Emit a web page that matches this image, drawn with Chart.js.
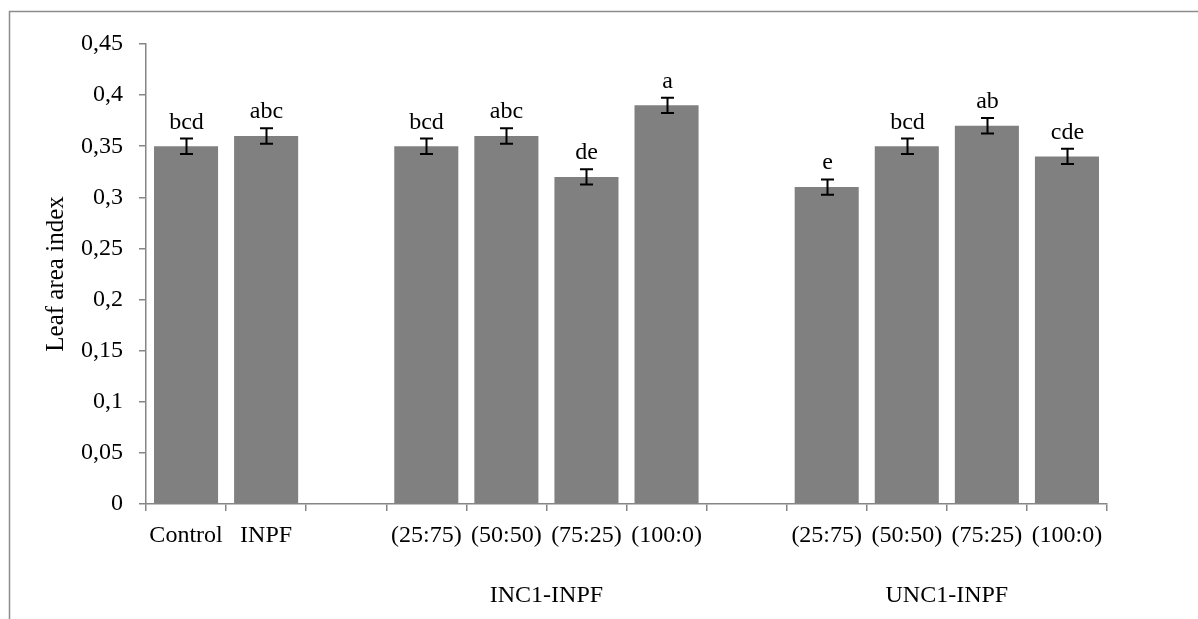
<!DOCTYPE html>
<html>
<head>
<meta charset="utf-8">
<script src="https://cdn.jsdelivr.net/npm/chart.js@4.4.1/dist/chart.umd.min.js"></script>
<style>
  html, body { margin: 0; padding: 0; background: #ffffff; }
  #wrap { width: 1198px; height: 619px; position: relative; }
</style>
</head>
<body>
<div id="wrap"><canvas id="c" width="1198" height="619"></canvas></div>
<script>
// ---- data ----
const categories = ['Control', 'INPF', '', '(25:75)', '(50:50)', '(75:25)', '(100:0)', '', '(25:75)', '(50:50)', '(75:25)', '(100:0)'];
const leafAreaIndex = [0.35, 0.36, null, 0.35, 0.36, 0.32, 0.39, null, 0.31, 0.35, 0.37, 0.34];
const errorValues = [0.0075, 0.0075, null, 0.0075, 0.0075, 0.0075, 0.0075, null, 0.0075, 0.0075, 0.0075, 0.0075];
const significanceLetters = ['bcd', 'abc', '', 'bcd', 'abc', 'de', 'a', '', 'e', 'bcd', 'ab', 'cde'];
const groupLabels = ['INC1-INPF', 'UNC1-INPF'];
const groupRanges = [[3, 6], [8, 11]];
const yTicks = [0, 0.05, 0.1, 0.15, 0.2, 0.25, 0.3, 0.35, 0.4, 0.45];

const FONT = "'Liberation Serif', 'Times New Roman', serif";
const GRAY = '#868686';

const decorPlugin = {
  id: 'decor',
  afterDatasetsDraw(chart) {
    const ctx = chart.ctx;
    const meta = chart.getDatasetMeta(0);
    const y = chart.scales.y;
    const x = chart.scales.x;
    ctx.save();
    // error bars + letters
    meta.data.forEach((bar, i) => {
      const v = leafAreaIndex[i];
      if (v === null || v === undefined) return;
      const e = errorValues[i];
      const cx = Math.round(bar.x) + 0.5;
      const top = y.getPixelForValue(v + e);
      const bot = y.getPixelForValue(v - e);
      ctx.strokeStyle = '#000';
      ctx.lineWidth = 2;
      ctx.beginPath();
      ctx.moveTo(cx, top); ctx.lineTo(cx, bot);
      ctx.moveTo(cx - 6.5, top); ctx.lineTo(cx + 6.5, top);
      ctx.moveTo(cx - 6.5, bot); ctx.lineTo(cx + 6.5, bot);
      ctx.stroke();
      ctx.fillStyle = '#000';
      ctx.font = '24px ' + FONT;
      ctx.textAlign = 'center';
      ctx.textBaseline = 'alphabetic';
      ctx.fillText(significanceLetters[i], cx, top - 10);
    });
    // group labels
    ctx.font = '24px ' + FONT;
    ctx.fillStyle = '#000';
    ctx.textAlign = 'center';
    ctx.textBaseline = 'alphabetic';
    groupLabels.forEach((g, k) => {
      const [a, b] = groupRanges[k];
      const gx = (x.getPixelForValue(a) + x.getPixelForValue(b)) / 2;
      ctx.fillText(g, gx, 602);
    });
    // outer frame
    ctx.strokeStyle = '#8c8c8c';
    ctx.lineWidth = 1.5;
    ctx.beginPath();
    ctx.moveTo(9.5, 619);
    ctx.lineTo(9.5, 11.5);
    ctx.lineTo(1198, 11.5);
    ctx.stroke();
    ctx.restore();
  }
};

new Chart(document.getElementById('c'), {
  type: 'bar',
  data: {
    labels: categories,
    datasets: [{
      data: leafAreaIndex,
      backgroundColor: '#808080',
      borderWidth: 0,
      barPercentage: 0.8,
      categoryPercentage: 1.0
    }]
  },
  options: {
    responsive: false,
    animation: false,
    devicePixelRatio: 1,
    layout: { padding: { left: 0, right: 91, top: 44, bottom: 0 } },
    plugins: { legend: { display: false }, tooltip: { enabled: false }, title: { display: false } },
    scales: {
      x: {
        grid: { display: true, offset: true, drawOnChartArea: false, drawTicks: true, tickLength: 7, color: GRAY, lineWidth: 1.5 },
        border: { display: true, color: GRAY, width: 1.5 },
        ticks: { autoSkip: false, maxRotation: 0, minRotation: 0, padding: 10, color: '#000', font: { family: FONT, size: 24 } },
        afterFit(scale) { scale.height = 619 - 504; }
      },
      y: {
        min: 0, max: 0.45,
        afterBuildTicks(scale) { scale.ticks = yTicks.map(v => ({ value: v })); },
        grid: { display: true, drawOnChartArea: false, drawTicks: true, tickLength: 7, color: GRAY, lineWidth: 1.5 },
        border: { display: true, color: GRAY, width: 1.5 },
        ticks: {
          padding: 16, color: '#000', font: { family: FONT, size: 24 },
          callback: (v) => String(Math.round(v * 100) / 100).replace('.', ',')
        },
        title: { display: true, text: 'Leaf area index', color: '#000', font: { family: FONT, size: 25 }, padding: { top: 41, bottom: 0 } },
        afterFit(scale) { scale.width = 146; }
      }
    }
  },
  plugins: [decorPlugin]
});
</script>
</body>
</html>
